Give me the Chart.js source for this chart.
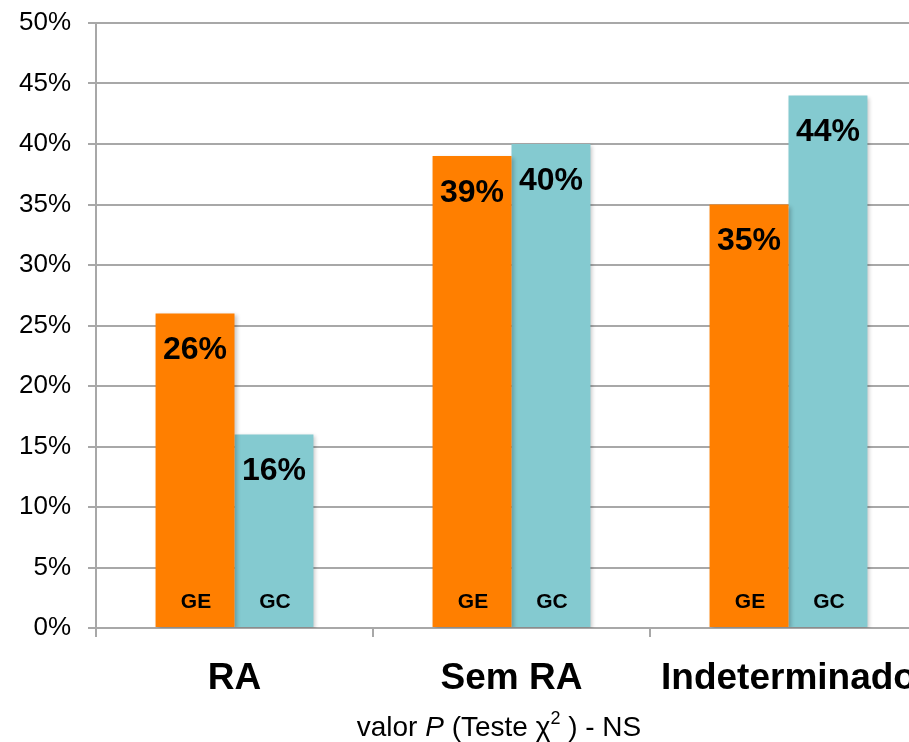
<!DOCTYPE html>
<html>
<head>
<meta charset="utf-8">
<script src="https://cdn.jsdelivr.net/npm/chart.js@4.4.1/dist/chart.umd.min.js"></script>
<style>
  html, body { margin: 0; padding: 0; background: #fff; overflow: hidden; }
  #wrap { position: absolute; left: 0; top: 0; width: 940px; height: 742px; }
</style>
</head>
<body>
<div id="wrap"><canvas id="c" width="940" height="742"></canvas></div>
<script>
const categories = ['RA', 'Sem RA', 'Indeterminado'];
const groupNames = ['GE', 'GC'];
const geValues = [26, 39, 35];
const gcValues = [16, 40, 44];
const yMax = 50;
const yStep = 5;

const FONT = '"Liberation Sans", Arial, Helvetica, sans-serif';
const ORANGE = '#ff7f00';
const TEAL = '#84cad0';
const GRID = '#a8a8a8';

// Bar shadow + value labels + group names inside each bar
const barDecor = {
  id: 'barDecor',
  beforeDatasetsDraw(chart) {
    const ctx = chart.ctx;
    ctx.save();
    ctx.shadowColor = 'rgba(0,0,0,0.22)';
    ctx.shadowBlur = 4;
    ctx.shadowOffsetX = 2;
    ctx.shadowOffsetY = 2;
  },
  afterDatasetsDraw(chart) {
    const ctx = chart.ctx;
    ctx.restore();
    ctx.save();
    ctx.fillStyle = '#000';
    ctx.textAlign = 'center';
    ctx.textBaseline = 'middle';
    chart.data.datasets.forEach((ds, di) => {
      const meta = chart.getDatasetMeta(di);
      meta.data.forEach((bar, i) => {
        ctx.font = 'bold 32px ' + FONT;
        ctx.fillText(ds.data[i] + '%', bar.x, bar.y + 37);
        ctx.font = 'bold 21px ' + FONT;
        ctx.fillText(ds.label, bar.x + 1, chart.scales.y.getPixelForValue(0) - 26);
      });
    });
    ctx.restore();
  },
  afterDraw(chart) {
    // x-axis title with italic P and superscript 2
    const ctx = chart.ctx;
    const parts = [
      { t: 'valor ', f: '28px ' + FONT, dy: 0 },
      { t: 'P', f: 'italic 28px ' + FONT, dy: 0 },
      { t: ' (Teste \u03C7', f: '28px ' + FONT, dy: 0 },
      { t: '2', f: '18px ' + FONT, dy: -12 },
      { t: ' ) - NS', f: '28px ' + FONT, dy: 0 }
    ];
    ctx.save();
    ctx.fillStyle = '#000';
    ctx.textBaseline = 'alphabetic';
    ctx.textAlign = 'left';
    let total = 0;
    parts.forEach(p => { ctx.font = p.f; p.w = ctx.measureText(p.t).width; total += p.w; });
    let x = 499 - total / 2;
    const baseY = 736;
    parts.forEach(p => { ctx.font = p.f; ctx.fillText(p.t, x, baseY + p.dy); x += p.w; });
    ctx.restore();
  }
};

new Chart(document.getElementById('c'), {
  type: 'bar',
  data: {
    labels: categories,
    datasets: [
      { label: groupNames[0], data: geValues, backgroundColor: ORANGE },
      { label: groupNames[1], data: gcValues, backgroundColor: TEAL }
    ]
  },
  options: {
    responsive: false,
    animation: false,
    devicePixelRatio: 1,
    layout: { padding: { top: 23, right: 13, left: 0, bottom: 0 } },
    datasets: { bar: { categoryPercentage: 0.57, barPercentage: 1.0 } },
    plugins: { legend: { display: false }, tooltip: { enabled: false } },
    scales: {
      y: {
        min: 0, max: yMax,
        ticks: {
          stepSize: yStep,
          callback: v => v + '%',
          color: '#000',
          font: { family: FONT, size: 26 },
          padding: 17
        },
        grid: { color: GRID, lineWidth: 2, tickLength: 8 },
        border: { color: GRID, width: 2 },
        afterFit(s) { s.width = 96; s.paddingTop = 0; s.paddingBottom = 0; }
      },
      x: {
        ticks: {
          color: '#000',
          font: { family: FONT, size: 37, weight: 'bold' },
          padding: 20,
          maxRotation: 0,
          autoSkip: false
        },
        grid: { display: true, drawOnChartArea: false, color: GRID, lineWidth: 2, tickLength: 9 },
        border: { color: GRID, width: 2 },
        afterFit(s) { s.height = 114; s.paddingLeft = 0; s.paddingRight = 0; }
      }
    }
  },
  plugins: [barDecor]
});
</script>
</body>
</html>
